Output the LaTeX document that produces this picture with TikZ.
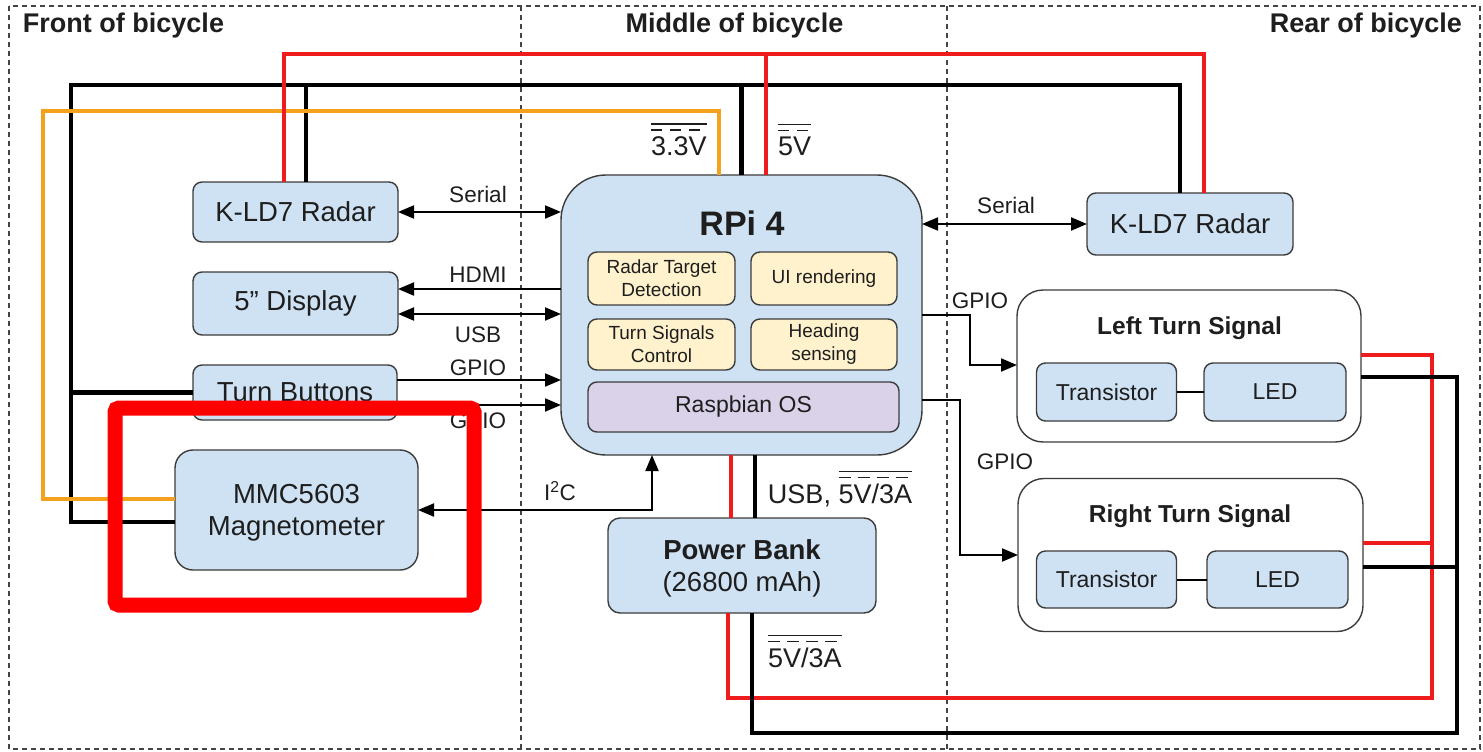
\documentclass[tikz,border=0pt]{standalone}
\usepackage{fontspec}
\setmainfont{Liberation Sans}
\usetikzlibrary{arrows.meta}
\definecolor{boxblue}{HTML}{CFE2F3}
\definecolor{boxyel}{HTML}{FFF2CC}
\definecolor{boxpur}{HTML}{D9D2E9}
\definecolor{bord}{HTML}{3C3C3C}
\definecolor{txt}{HTML}{1E1E1E}
\definecolor{wred}{HTML}{EE1C1C}
\definecolor{worange}{HTML}{F4A11E}
\definecolor{hired}{HTML}{FF0000}
\definecolor{dashgray}{HTML}{444444}
\newcommand{\myfs}[2]{\fontsize{#1}{#2}\selectfont}
\begin{document}
\begin{tikzpicture}[x=1pt,y=-1pt,
 box/.style={draw=bord,fill=boxblue,line width=1.4pt,rounded corners=9pt,inner sep=0pt,outer sep=0pt,align=center,text=txt,font=\myfs{27.5}{32}},
 inbox/.style={box,fill=boxyel,font=\myfs{19}{23}},
 container/.style={draw=bord,fill=white,line width=1.4pt,rounded corners=26pt,inner sep=0pt,outer sep=0pt},
 lbl/.style={inner sep=0pt,outer sep=0pt,anchor=base,text=txt,font=\myfs{22.5}{26}},
 ttl/.style={inner sep=0pt,outer sep=0pt,anchor=base,text=txt,font=\bfseries\myfs{27}{32}},
 volt/.style={inner sep=0pt,outer sep=0pt,anchor=base west,text=txt,font=\myfs{27}{32}},
 dcs/.style={line width=1.8pt,txt},
 dcd/.style={line width=1.8pt,txt,dash pattern=on 11pt off 8pt},
 wk/.style={line width=4.2pt,black,line join=miter},
 wr/.style={line width=3.8pt,wred,line join=miter},
 wo/.style={line width=3.6pt,worange,line join=miter},
 sig/.style={line width=2pt,black,line join=miter,-{Triangle[length=16pt,width=13pt]}},
 sigb/.style={line width=2pt,black,line join=miter,{Triangle[length=16pt,width=13pt]}-{Triangle[length=16pt,width=13pt]}},
 zone/.style={dashgray,line width=1.1pt,dash pattern=on 5pt off 4pt}
]
\useasboundingbox (0,0) rectangle (1483,752);
\fill[white] (0,0) rectangle (1483,752);

% zones
\draw[zone] (9,6) rectangle (1480,749);
\draw[zone] (521,6) -- (521,749);
\draw[zone] (947,6) -- (947,749);

% titles
\node[ttl,anchor=base west] (tfront) at (23,33) {Front of bicycle};
\node[ttl] (tmid) at (734.5,33) {Middle of bicycle};
\node[ttl,anchor=base east] (trear) at (1462,33) {Rear of bicycle};

% front nodes
\node[box,minimum width=205pt,minimum height=60pt] (lradar) at (295.5,212) {K-LD7 Radar};
\node[box,minimum width=205pt,minimum height=63pt] (disp) at (295.5,303.5) {5” Display};
\node[box,minimum width=204pt,minimum height=55pt] (tbtn) at (295,392.5) {Turn Buttons};
\node[box,minimum width=243pt,minimum height=120pt,rounded corners=18pt] (mag) at (296.5,510) {\rule{0pt}{24pt}MMC5603\\Magnetometer};

% RPi
\node[box,minimum width=361pt,minimum height=280pt,rounded corners=45pt] (rpi) at (741.5,315) {};
\node[ttl,anchor=center,font=\bfseries\myfs{34}{40}] (rpit) at (742,223.5) {RPi 4};
\node[inbox,minimum width=147pt,minimum height=53pt] (rtd) at (661.5,278.5) {Radar Target\\Detection};
\node[inbox,minimum width=146pt,minimum height=53pt] (uir) at (824,278.5) {UI rendering};
\node[inbox,minimum width=147pt,minimum height=51pt] (tsc) at (661.5,344.5) {Turn Signals\\Control};
\node[inbox,minimum width=146pt,minimum height=51pt] (hds) at (824,344.5) {Heading\\sensing};
\node[box,fill=boxpur,minimum width=311pt,minimum height=50pt,font=\myfs{23}{27}] (os) at (743.5,407) {Raspbian OS};

% power bank
\node[box,minimum width=268pt,minimum height=95pt,rounded corners=12pt] (pb) at (742,565.5) {\rule{0pt}{25pt}\textbf{Power Bank}\\(26800 mAh)};

% rear
\node[box,minimum width=206pt,minimum height=62pt] (rradar) at (1190,224) {K-LD7 Radar};
\node[container,minimum width=344pt,minimum height=152pt] (lts) at (1189,366) {};
\node[ttl,font=\bfseries\myfs{24.5}{29}] (ltst) at (1189.5,334) {Left Turn Signal};
\node[box,minimum width=140pt,minimum height=58pt,font=\myfs{23}{27}] (ltr) at (1106.5,392) {Transistor};
\node[box,minimum width=142pt,minimum height=58pt,font=\myfs{23}{27}] (lled) at (1275,392) {LED};
\node[container,minimum width=345pt,minimum height=153pt] (rts) at (1190.5,555) {};
\node[ttl,font=\bfseries\myfs{24.5}{29}] (rtst) at (1190,522) {Right Turn Signal};
\node[box,minimum width=140pt,minimum height=57pt,font=\myfs{23}{27}] (rtr) at (1106.5,579.5) {Transistor};
\node[box,minimum width=141pt,minimum height=57pt,font=\myfs{23}{27}] (rled) at (1277.5,579.5) {LED};
\draw[line width=2pt,black] (ltr) -- (lled);
\draw[line width=2pt,black] (rtr) -- (rled);

% helper coordinates
\coordinate (yhdmi) at (0,289);
\coordinate (yusb) at (0,314);
\coordinate (yg1) at (0,380);
\coordinate (yg2) at (0,405);
\coordinate (i2c) at (652,510);
\coordinate (g1a) at (970,315);
\coordinate (g1b) at (970,365);
\coordinate (g2a) at (960,400);
\coordinate (g2b) at (960,555);

% signal connectors
\draw[sigb] (lradar.east) -- (rpi.west |- lradar.east);
\draw[sig] (rpi.west |- yhdmi) -- (disp.east |- yhdmi);
\draw[sigb] (disp.east |- yusb) -- (rpi.west |- yusb);
\draw[sig] (tbtn.east |- yg1) -- (rpi.west |- yg1);
\draw[sig] (tbtn.east |- yg2) -- (rpi.west |- yg2);
\draw[sigb] (mag.east) -- (i2c) -- (i2c |- rpi.south);
\draw[sigb] (rpi.east |- rradar.west) -- (rradar.west);
\draw[sig] (rpi.east |- g1a) -- (g1a) -- (g1b) -- (lts.west |- g1b);
\draw[sig] (rpi.east |- g2a) -- (g2a) -- (g2b) -- (rts.west |- g2b);

% signal labels
\node[lbl] (lser) at (478,202) {Serial};
\node[lbl] (lhdmi) at (478,282) {HDMI};
\node[lbl] (lusb) at (478,342) {USB};
\node[lbl] (lgp1) at (478,375) {GPIO};
\node[lbl] (lgp2) at (478,428) {GPIO};
\node[lbl] (li2c) at (560,500) {I\textsuperscript{2}C};
\node[lbl] (rser) at (1006,213) {Serial};
\node[lbl] (rgp1) at (980,308) {GPIO};
\node[lbl] (rgp2) at (1005,469) {GPIO};

% power wires: ground (black)
\coordinate (kBL) at (71,522);
\coordinate (kTL) at (71,85);
\coordinate (kTR) at (1180,85);
\coordinate (kR1) at (306,85);
\draw[wk] (mag.west |- kBL) -- (kBL) -- (kTL) -- (kTR) -- (kTR |- rradar.north);
\draw[wk] (kTL |- tbtn.west) -- (tbtn.west);
\draw[wk] (kR1) -- (kR1 |- lradar.north);
\draw[wk] (rpi.north |- kTL) -- (rpi.north);

% 3.3V (orange)
\coordinate (oBL) at (43,499);
\coordinate (oTL) at (43,111);
\coordinate (oTR) at (719,111);
\draw[wo] (mag.west |- oBL) -- (oBL) -- (oTL) -- (oTR) -- (oTR |- rpi.north);

% 5V (red) top
\coordinate (rTL) at (284,54);
\coordinate (rTR) at (1204,54);
\coordinate (rM) at (766,54);
\draw[wr] (rTL |- lradar.north) -- (rTL) -- (rTR) -- (rTR |- rradar.north);
\draw[wr] (rM) -- (rM |- rpi.north);

% power bank to RPi
\coordinate (rP) at (731,480);
\coordinate (kP) at (755,480);
\draw[wr] (rP |- rpi.south) -- (rP |- pb.north);
\draw[wk] (kP |- rpi.south) -- (kP |- pb.north);

% power bank to turn signals
\coordinate (rB1) at (728,698);
\coordinate (rB2) at (1432,698);
\coordinate (rL) at (1432,355);
\coordinate (rR) at (1432,543);
\draw[wr] (rB1 |- pb.south) -- (rB1) -- (rB2) -- (rL) -- (lts.east |- rL);
\draw[wr] (rR) -- (rts.east |- rR);
\coordinate (kB1) at (752,733);
\coordinate (kB2) at (1457,733);
\coordinate (kL) at (1457,377);
\coordinate (kR) at (1457,567);
\draw[wk] (kB1 |- pb.south) -- (kB1) -- (kB2) -- (kL) -- (lts.east |- kL);
\draw[wk] (kR) -- (rts.east |- kR);

% DC voltage labels
\node[volt] (v33) at (651,155) {3.3V};
\draw[dcs] ([yshift=12pt]v33.north west) -- ([yshift=12pt]v33.north east);
\draw[dcd] ([yshift=6pt]v33.north west) -- ([yshift=6pt]v33.north east);
\node[volt] (v5) at (778,155) {5V};
\draw[dcs] ([yshift=12pt]v5.north west) -- ([yshift=12pt]v5.north east);
\draw[dcd] ([yshift=6pt]v5.north west) -- ([yshift=6pt]v5.north east);
\node[volt] (v53a) at (838.5,503) {5V/3A};
\node[volt,anchor=base east] (usbc) at ([xshift=-7.5pt]v53a.base west) {USB,};
\draw[dcs] ([yshift=12pt]v53a.north west) -- ([yshift=12pt]v53a.north east);
\draw[dcd,dash pattern=on 12pt off 7pt] ([yshift=6pt]v53a.north west) -- ([yshift=6pt]v53a.north east);
\node[volt] (v53b) at (768,667) {5V/3A};
\draw[dcs] ([yshift=12pt]v53b.north west) -- ([yshift=12pt]v53b.north east);
\draw[dcd,dash pattern=on 12pt off 7pt] ([yshift=6pt]v53b.north west) -- ([yshift=6pt]v53b.north east);

% highlight
\draw[hired,line width=15pt,rounded corners=4pt] (115,408) rectangle (474,605);
\end{tikzpicture}
\end{document}
